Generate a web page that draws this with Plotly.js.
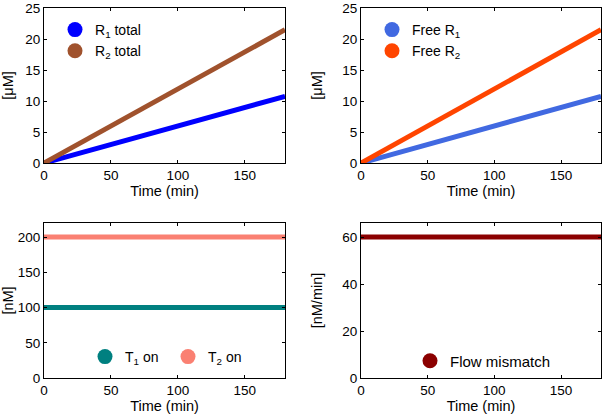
<!DOCTYPE html>
<html>
<head>
<meta charset="utf-8">
<script src="https://cdn.plot.ly/plotly-3.0.1.min.js"></script>
<style>html,body{margin:0;padding:0;background:#fff}#chart{width:606px;height:414px}</style>
</head>
<body>
<div id="chart"></div>
<script>
// ---- data ----
const time = [0, 30, 60, 90, 120, 150, 180];
const r1Total = [0, 1.8, 3.6, 5.4, 7.2, 9.0, 10.75];
const r2Total = [0, 3.6, 7.2, 10.8, 14.35, 17.95, 21.5];
const freeR1 = [0, 1.8, 3.6, 5.4, 7.2, 9.0, 10.75];
const freeR2 = [0, 3.6, 7.2, 10.8, 14.35, 17.95, 21.5];
const t1On = [100, 100, 100, 100, 100, 100, 100];
const t2On = [200, 200, 200, 200, 200, 200, 200];
const flowMismatch = [60, 60, 60, 60, 60, 60, 60];

const names = {
  r1Total: 'R<sub>1</sub> total',
  r2Total: 'R<sub>2</sub> total',
  freeR1: 'Free R<sub>1</sub>',
  freeR2: 'Free R<sub>2</sub>',
  t1On: 'T<sub>1</sub> on',
  t2On: 'T<sub>2</sub> on',
  flow: 'Flow mismatch'
};
const colors = {
  r1Total: '#0000ff', r2Total: '#a0522d',
  freeR1: '#4169e1', freeR2: '#ff4500',
  t1On: '#008080', t2On: '#fa8072', flow: '#8b0000'
};

function line(y, c, xa, ya) {
  return {x: time, y: y, mode: 'lines', line: {color: c, width: 5}, xaxis: xa, yaxis: ya, showlegend: false, hoverinfo: 'skip'};
}
function leg(name, c, xa, ya, lg) {
  return {x: [null], y: [null], mode: 'markers', name: name, marker: {color: c, size: 15}, xaxis: xa, yaxis: ya, legend: lg, showlegend: true};
}

const data = [
  line(r1Total, colors.r1Total, 'x', 'y'),
  line(r2Total, colors.r2Total, 'x', 'y'),
  line(freeR1, colors.freeR1, 'x2', 'y2'),
  line(freeR2, colors.freeR2, 'x2', 'y2'),
  line(t1On, colors.t1On, 'x3', 'y3'),
  line(t2On, colors.t2On, 'x3', 'y3'),
  line(flowMismatch, colors.flow, 'x4', 'y4'),
  leg(names.r1Total, colors.r1Total, 'x', 'y', 'legend'),
  leg(names.r2Total, colors.r2Total, 'x', 'y', 'legend'),
  leg(names.freeR1, colors.freeR1, 'x2', 'y2', 'legend2'),
  leg(names.freeR2, colors.freeR2, 'x2', 'y2', 'legend2'),
  leg(names.t1On, colors.t1On, 'x3', 'y3', 'legend3'),
  leg(names.t2On, colors.t2On, 'x3', 'y3', 'legend3'),
  leg(names.flow, colors.flow, 'x4', 'y4', 'legend4')
];

const FAM = 'Liberation Sans, Arial, sans-serif';
const tickFont = {family: FAM, size: 13.5, color: '#000'};
const titleFont = {family: FAM, size: 14.5, color: '#000'};
function xax(dom, anchor) {
  return {domain: dom, anchor: anchor, range: [0, 180], dtick: 50, tick0: 0,
    showline: true, mirror: 'ticks', linecolor: '#000', linewidth: 1,
    ticks: 'inside', ticklen: 3, tickcolor: '#000', showgrid: false, zeroline: false,
    title: {text: 'Time (min)', font: titleFont, standoff: 2}, tickfont: tickFont};
}
function yax(dom, anchor, range, dtick, title) {
  return {domain: dom, anchor: anchor, range: range, dtick: dtick, tick0: 0,
    showline: true, mirror: 'ticks', linecolor: '#000', linewidth: 1,
    ticks: 'inside', ticklen: 3, tickcolor: '#000', showgrid: false, zeroline: false,
    title: {text: title, font: titleFont}, tickfont: tickFont};
}
const X1 = [44/606, 285/606], X2 = [361/606, 601/606];
const Ytop = [1 - 163/414, 1 - 8/414], Ybot = [1 - 378/414, 1 - 223/414];
const legFont = {family: FAM, size: 14, color: '#000'};

const layout = {
  width: 606, height: 414,
  margin: {l: 0, r: 0, t: 0, b: 0},
  paper_bgcolor: '#fff', plot_bgcolor: '#fff',
  font: tickFont,
  xaxis: xax(X1, 'y'), yaxis: yax(Ytop, 'x', [0, 25], 5, '[μM]'),
  xaxis2: xax(X2, 'y2'), yaxis2: yax(Ytop, 'x2', [0, 25], 5, '[μM]'),
  xaxis3: xax(X1, 'y3'), yaxis3: yax(Ybot, 'x3', [0, 220], 50, '[nM]'),
  xaxis4: xax(X2, 'y4'), yaxis4: yax(Ybot, 'x4', [0, 66], 20, '[nM/min]'),
  legend: {x: 55/606, y: 1 - 14/414, xanchor: 'left', yanchor: 'top', bgcolor: 'rgba(0,0,0,0)', font: legFont},
  legend2: {x: 372/606, y: 1 - 14/414, xanchor: 'left', yanchor: 'top', bgcolor: 'rgba(0,0,0,0)', font: legFont},
  legend3: {x: 85/606, y: 1 - 357/414, xanchor: 'left', yanchor: 'middle', orientation: 'h', entrywidth: 38, entrywidthmode: 'pixels', bgcolor: 'rgba(0,0,0,0)', font: legFont},
  legend4: {x: 410/606, y: 1 - 361/414, xanchor: 'left', yanchor: 'middle', bgcolor: 'rgba(0,0,0,0)', font: {family: FAM, size: 15, color: '#000'}}
};

Plotly.newPlot('chart', data, layout, {displayModeBar: false, staticPlot: true});
</script>
</body>
</html>
